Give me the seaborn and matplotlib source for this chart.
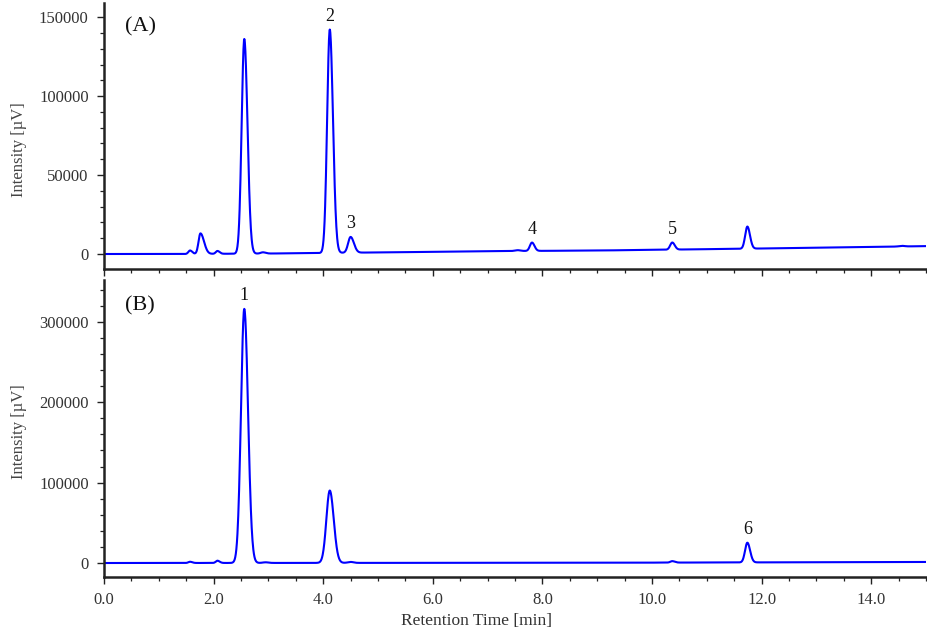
import numpy as np
import pandas as pd
import matplotlib
matplotlib.use("Agg")
import matplotlib.pyplot as plt
from matplotlib.ticker import MultipleLocator, FormatStrFormatter
import seaborn as sns

# ---------------- data ----------------
# Panel A peaks: retention time [min], height above baseline [uV], left/right sigma [min]
a_rt = [1.57, 1.76, 2.07, 2.56, 2.90, 4.12, 4.50, 7.55, 7.81, 10.37, 11.74, 14.56]
a_height = [2200, 13000, 1800, 136000, 800, 141500, 10000, 500, 5300, 4500, 14000, 400]
a_sig_l = [0.03, 0.035, 0.03, 0.048, 0.04, 0.048, 0.045, 0.05, 0.038, 0.038, 0.04, 0.05]
a_sig_r = [0.04, 0.065, 0.04, 0.058, 0.05, 0.058, 0.06, 0.05, 0.045, 0.045, 0.048, 0.05]
a_base_t = [0.0, 1.4, 3.0, 5.0, 7.5, 9.0, 11.8, 13.5, 15.0]
a_base_v = [0, 0, 300, 1000, 1900, 2200, 3400, 4200, 5000]

# Panel B peaks
b_rt = [1.57, 2.07, 2.56, 2.95, 4.12, 4.50, 10.37, 11.74]
b_height = [1500, 2800, 316000, 800, 90000, 1200, 1800, 24500]
b_sig_l = [0.03, 0.03, 0.06, 0.05, 0.062, 0.05, 0.035, 0.042]
b_sig_r = [0.04, 0.04, 0.068, 0.05, 0.072, 0.05, 0.045, 0.05]
b_base_t = [0.0, 9.0, 15.0]
b_base_v = [0, 300, 1300]

# Peak labels
a_labels = ["2", "3", "4", "5"]
a_label_rt = [4.12, 4.50, 7.81, 10.37]
b_labels = ["1", "6"]
b_label_rt = [2.56, 11.74]

panel_tags = ["(A)", "(B)"]
x_label = "Retention Time [min]"
y_label = "Intensity [µV]"


def trace(t, rt, h, sl, sr, bt, bv):
    y = np.interp(t, bt, bv).astype(float)
    for r, hh, s1, s2 in zip(rt, h, sl, sr):
        s = np.where(t < r, s1, s2)
        y += hh * np.exp(-0.5 * ((t - r) / s) ** 2)
    return y


t = np.linspace(0, 15, 3001)
df_a = pd.DataFrame({"t": t, "v": trace(t, a_rt, a_height, a_sig_l, a_sig_r, a_base_t, a_base_v)})
df_b = pd.DataFrame({"t": t, "v": trace(t, b_rt, b_height, b_sig_l, b_sig_r, b_base_t, b_base_v)})

# ---------------- style ----------------
sns.set_style("ticks")
plt.rcParams["font.family"] = ["Liberation Serif", "DejaVu Serif"]

fig = plt.figure(figsize=(9.27, 6.38), dpi=100)
W, H = 927, 638
ax_a = fig.add_axes([104 / W, 1 - 269 / H, (926 - 104) / W, (269 - 3) / H])
ax_b = fig.add_axes([104 / W, 1 - 577 / H, (926 - 104) / W, (577 - 280) / H])

line_col = "#0000ff"
sns.lineplot(data=df_a, x="t", y="v", ax=ax_a, color=line_col, linewidth=1.5)
sns.lineplot(data=df_b, x="t", y="v", ax=ax_b, color=line_col, linewidth=1.5)

ax_a.set_ylim(-9500, 159000)
ax_b.set_ylim(-17400, 352000)

for ax, ymaj, ymin in [(ax_a, 50000, 10000), (ax_b, 100000, 20000)]:
    ax.set_xlim(0, 15)
    ax.xaxis.set_major_locator(MultipleLocator(2.0))
    ax.xaxis.set_minor_locator(MultipleLocator(0.5))
    ax.xaxis.set_major_formatter(FormatStrFormatter("%.1f"))
    ax.yaxis.set_major_locator(MultipleLocator(ymaj))
    ax.yaxis.set_minor_locator(MultipleLocator(ymin))
    for side in ["top", "right"]:
        ax.spines[side].set_visible(False)
    for side in ["left", "bottom"]:
        ax.spines[side].set_linewidth(1.8)
        ax.spines[side].set_color("#222222")
    ax.tick_params(axis="both", which="major", direction="out", length=5, width=1.0,
                   color="#222222", labelsize=12, labelcolor="#333333", pad=6)
    ax.tick_params(axis="both", which="minor", direction="out", length=3, width=0.9,
                   color="#222222")
    ax.set_ylabel(y_label, fontsize=12, color="#444444")
    ax.set_xlabel("")

ax_a.yaxis.set_label_coords(-0.094, 0.45)
ax_b.yaxis.set_label_coords(-0.094, 0.49)
ax_a.tick_params(axis="x", which="both", labelbottom=False)
ax_b.set_xlabel(x_label, fontsize=12.5, color="#333333")
ax_b.xaxis.set_label_coords(0.4526, -0.12)

# panel tags
ax_a.text(0.38, 144000, panel_tags[0], fontsize=16, ha="left", va="center", color="#111111")
ax_b.text(0.38, 320000, panel_tags[1], fontsize=16, ha="left", va="center", color="#111111")

# peak labels
for ax, df, labs, rts in [(ax_a, df_a, a_labels, a_label_rt), (ax_b, df_b, b_labels, b_label_rt)]:
    for lab, r in zip(labs, rts):
        m = (df["t"] > r - 0.1) & (df["t"] < r + 0.1)
        ytop = df.loc[m, "v"].max()
        ax.annotate(lab, (r, ytop), xytext=(0, 3.5), textcoords="offset points",
                    ha="center", va="bottom", fontsize=13, color="#111111")

fig.savefig("out.png", dpi=100)
